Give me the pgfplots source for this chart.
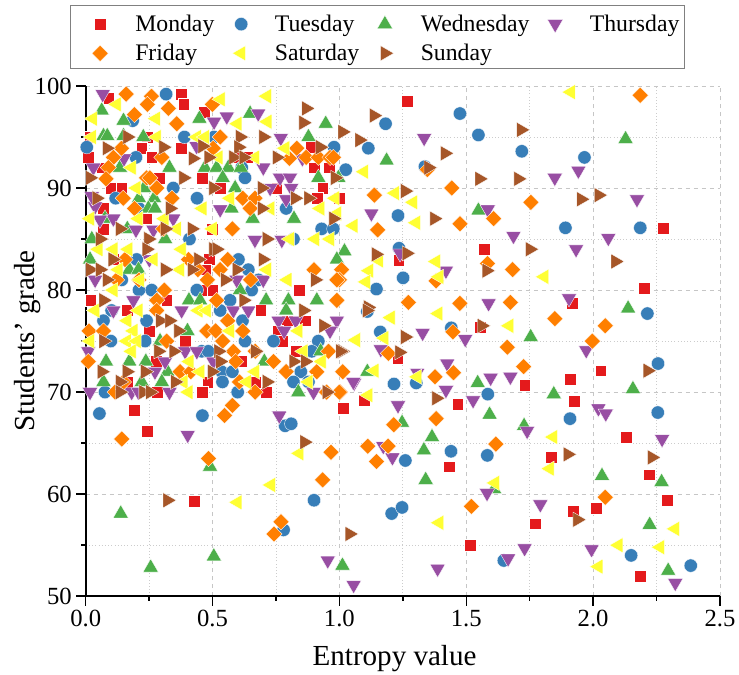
\documentclass[border=0pt]{standalone}
\usepackage{fontspec}
\setmainfont{Liberation Serif}
\usepackage{pgfplots}
\pgfplotsset{compat=1.18}
\definecolor{cMon}{HTML}{E41A1C}
\definecolor{cTue}{HTML}{377EB8}
\definecolor{cWed}{HTML}{4DAF4A}
\definecolor{cThu}{HTML}{984EA3}
\definecolor{cFri}{HTML}{FF7F00}
\definecolor{cSat}{HTML}{FFFF33}
\definecolor{cSun}{HTML}{A65628}
\pgfplotsset{
 mon/.style={only marks,mark=square*,mark size=4.4pt,mark options={fill=cMon,draw=white,line width=0.25pt}},
 tue/.style={only marks,mark=*,mark size=5pt,mark options={fill=cTue,draw=white,line width=0.25pt}},
 wed/.style={only marks,mark=triangle*,mark size=6.6pt,mark options={fill=cWed,draw=white,line width=0.25pt}},
 thu/.style={only marks,mark=triangle*,mark size=6.6pt,mark options={rotate=180,fill=cThu,draw=white,line width=0.25pt}},
 fri/.style={only marks,mark=square*,mark size=4.3pt,mark options={rotate=45,fill=cFri,draw=white,line width=0.25pt}},
 sat/.style={only marks,mark=triangle*,mark size=6.6pt,mark options={rotate=90,fill=cSat,draw=white,line width=0.25pt}},
 sun/.style={only marks,mark=triangle*,mark size=6.6pt,mark options={rotate=-90,fill=cSun,draw=white,line width=0.25pt}},
}
\begin{document}
\begin{tikzpicture}
\path[use as bounding box] (-64.3pt,-59pt) rectangle (490pt,447.2pt);
\begin{axis}[
 scale only axis,width=475.7pt,height=382.7pt,
 xmin=0,xmax=2.5,ymin=50,ymax=100,
 axis lines=left,axis line style={-,line width=1.3pt,black},
 xtick={0,0.5,1,1.5,2,2.5},ytick={50,60,70,80,90,100},
 minor xtick={0.25,0.75,1.25,1.75,2.25},minor ytick={55,65,75,85,95},
 xticklabels={0.0,0.5,1.0,1.5,2.0,2.5},
 tick align=outside,
 major tick length=7pt,minor tick length=3.5pt,
 every tick/.style={black,line width=1.1pt},
 grid=both,
 major grid style={dashed,gray!45,line width=0.5pt},
 minor grid style={dotted,gray!40,line width=0.6pt},
 tick label style={font=\fontsize{18.5pt}{20pt}\selectfont},
 /pgf/number format/assume math mode=true,
 xlabel={Entropy value},ylabel={Students' grade},
 label style={font=\fontsize{21.8pt}{24pt}\selectfont},
 xlabel style={at={(axis description cs:0.487,0)},anchor=north,yshift=-33pt},
 ylabel style={at={(axis description cs:0,0.5)},anchor=south,yshift=30pt},
 legend columns=4,
 legend cell align=left,
 legend style={at={(rel axis cs:0.0032,1.1529)},anchor=north west,draw=none,fill=none,
   font=\fontsize{17.8pt}{20pt}\selectfont,
   inner xsep=3pt,inner ysep=3pt,row sep=4pt,
   /tikz/every even column/.append style={column sep=11.5pt},
   /tikz/every odd column/.append style={column sep=18.3pt}},
]
\addplot[mon] coordinates {(.19,68.2)(.243,66.2)(.427,59.3)(1.016,68.4)(1.23,73.3)(1.097,69.2)(1.466,68.8)(1.433,62.7)(1.515,55)(1.73,70.7)(1.91,71.3)(1.926,69.1)(2.03,72.1)(1.836,63.6)(1.922,58.3)(2.011,58.6)(1.771,57.1)(2.13,65.6)(2.22,61.9)(2.293,59.4)(2.186,52)
(1.268,98.5)(1.571,84)(1.234,82.9)(2.276,86.1)(2.202,80.2)(1.918,78.7)(1.556,76.4)
(.09,98.8)(.375,99.2)(.386,98.2)(.468,97.4)(.243,95)(.221,93.9)(.26,93)(.375,93.9)(.01,93)(.063,92)(.887,94)(.9,92)(.96,92)(.46,91)(.29,91)(.1,90)(.142,90)(.53,90)(.753,90)(.934,90)(.913,89)(1.0,89)(.017,95)(.07,88)(.07,86)(.24,87)(.497,86)(.589,93)(.635,93)
(.488,83)(.47,82)(.02,79)(.319,79)(.46,80)(.5,80)(.842,80)(.164,78)(.69,78)(.795,77)(.865,77)(.251,76)(.392,75)(.757,76)(.773,75)(.829,74)(.277,73)(.615,73)(.162,71)(.481,71)(.283,70)(.46,70)(.71,70)(.109,83)(.668,71)};
\addlegendentry{Monday}
\addplot[tue] coordinates {(.054,67.9)(.46,67.7)(.786,66.7)(.81,66.9)(.90,59.4)(.78,56.5)(1.215,70.8)(1.303,70.9)(1.26,63.3)(1.44,64.2)(1.583,63.8)(1.585,69.8)(1.206,58.1)(1.247,58.7)(1.909,67.4)(2.256,72.8)(2.255,68)(1.648,53.5)(2.15,54)(2.385,53)
(1.475,97.3)(1.182,96.3)(1.548,95.2)(1.114,93.9)(1.719,93.6)(1.966,93)(1.337,92.1)(1.025,91.8)(1.231,87.3)(1.891,86.1)(2.186,86.1)(1.235,84.1)(1.251,81.2)(1.146,80.1)(1.11,77.9)(2.214,77.7)(1.161,75.9)(1.441,76.3)
(.317,99.2)(.389,95)(.185,96.6)(.004,94)(.198,93)(.506,95)(.615,92)(.628,91)(.979,94)(.345,90)(.118,89)(.439,89)(.79,88)(.93,86)(.976,86)(.409,85)(.21,88)(.819,85)
(.201,83)(.641,82)(.602,83)(.142,81)(.681,81)(.21,80)(.26,80)(.438,80)(.654,80)(.569,79)(.53,78)(.102,78)(.07,77)(.24,77)(.618,77)(.234,75)(.099,75)(.628,75)(.74,75)(.917,75)(.457,74)(.483,74)(.891,74)(.536,72)(.578,72)(.848,72)(.539,71)(.819,71)(.076,70)(.599,70)(.878,71)};
\addlegendentry{Tuesday}
\addplot[wed] coordinates {(.49,62.7)(.138,58.1)(.256,52.8)(.505,53.9)(1.012,53)(1.11,72)(1.545,70.9)(1.845,69.8)(2.157,70.3)(1.247,67)(1.592,67.8)(1.728,66.7)(1.365,65.6)(1.333,64.3)(1.34,61.4)(1.61,60.5)(2.035,61.8)(2.27,61.2)(2.223,57)(2.296,52.5)
(1.186,92.7)(2.128,94.8)(1.548,87.8)(1.02,83.8)(2.138,78.2)(1.754,75.4)
(.063,97.6)(.149,96.6)(.448,96.8)(.648,97.3)(.946,96.3)(.07,95.1)(.085,95.1)(.149,95.1)(.227,95)(.878,95)(.135,92)(.33,92)(.47,92)(.516,92)(.562,92)(.611,92)(.54,91)(.917,91)(.996,91)(.589,90)(.23,90)(.27,89)(.21,89)(.247,88)(.273,88)(.575,88)(.658,87)(.821,87)(.313,85)(.164,86)(.024,85)(.076,87)
(.017,83)(.99,83)(.172,82)(.208,82)(.608,80)(.407,79)(.451,79)(.711,79)(.799,79)(.911,79)(.79,78)(.401,76)(.293,75)(.08,73)(.172,73)(.237,73)(.704,73)(.926,74)(.322,72)(.07,71)(.221,71)(.3,71)(.838,70)};
\addlegendentry{Wednesday}
\addplot[thu] coordinates {(.402,65.8)(.763,67.7)(.954,53.5)(1.056,51.1)(1.163,74.2)(1.058,70.9)(1.307,71.9)(1.425,72.8)(1.42,70.2)(1.596,71.4)(1.674,71.5)(1.527,69.2)(1.231,68.7)(1.173,64.7)(1.209,63.6)(1.582,60.1)(1.74,66.2)(1.792,59)(1.973,74.1)(2.021,68.4)(2.05,67.9)(2.272,65.4)(1.387,52.7)(1.665,53.7)(1.73,54.7)(1.994,54.6)(2.324,51.3)
(1.334,94.9)(1.849,91)(1.942,91.7)(2.173,88.9)(1.126,87.5)(1.585,87.9)(1.686,85.3)(2.06,85.1)(1.933,84)(1.42,81.9)(1.905,79.2)(1.588,78.7)(1.328,75.8)(1.496,75.2)(1.239,83.6)
(.067,99.2)(.506,96.5)(.556,97)(.68,97.3)(.769,94.9)(.151,92.9)(.03,92)(.70,92)(.766,91)(.805,91)(.727,90)(.81,90)(.79,88.9)(.037,88.2)(.109,87)(.198,85.9)(.345,87)(.667,84.9)(.773,84.9)(.437,94.1)(.854,92.9)(.53,87.9)(.024,89.2)(.056,86.9)(.267,85.9)
(.037,81)(.251,83)(.7,81)(.595,81)(.188,79)(.378,78)(.582,78)(.641,78)(.76,77)(.828,77)(.99,77)(.782,76)(.963,76)(.392,74)(.438,74)(.313,73)(.273,72)(1.055,71)(.898,70)(.017,70)(.181,70)(.208,70)(.33,70)(.01,74)(.109,78)(.503,73)};
\addlegendentry{Thursday}
\addplot[fri] coordinates {(.142,65.4)(.484,63.5)(.547,67.7)(.578,68.7)(.967,64.1)(.934,61.4)(.77,57.3)(.742,56.1)(1.112,64.7)(1.013,72)(1.0024,70)(1.193,73.8)(1.377,71.5)(1.45,71.9)(1.726,72.5)(1.662,74.4)(1.997,75)(1.381,67.4)(1.214,66.8)(1.192,64.7)(1.146,63.2)(1.617,64.9)(1.52,58.8)(2.048,59.7)
(2.186,99.1)(1.347,91.8)(1.443,90)(1.138,89.3)(1.755,88.6)(1.608,87)(1.475,86.5)(1.151,85.9)(1.584,82.6)(1.683,82)(1.009,82)(1.381,80.9)(1.272,78.8)(1.475,78.7)(1.674,78.8)(1.849,77.2)(2.048,76.5)(1.447,75.9)
(.159,99.2)(.259,99)(.243,98.2)(.326,97.8)(.192,97.2)(.359,96.3)(.499,98.2)(.53,95)(.503,93.9)(.141,93.9)(.109,93)(.3,93)(.089,92)(.803,92.9)(.832,93.9)(.869,93)(.917,93)(.963,93)(.976,93)(.08,90.9)(.24,91)(.253,91)(.28,90)(.148,89)(.34,89)(.192,88)(.619,89)(.667,89)(.648,88)(.578,86)(.306,86)
(.155,83)(.56,83)(.405,83)(.442,82)(.53,82)(.9,82)(1.0,81)(.48,81)(.122,81)(.21,81)(.65,81)(.99,81)(.31,80)(.28,79)(.28,78)(.516,79)(.99,79)(.56,77)(.013,76)(.07,76)(.477,76)(.512,76)(.619,76)(.319,75)(.54,75)(.582,74)(.957,74)(.668,74)(.591,73)(.74,73)(.01,73)(.372,72)(.414,72)(.79,72)(.911,72)(.149,71)(.606,71)(.116,70)(.668,70)(1.0,70)(.95,70)};
\addlegendentry{Friday}
\addplot[sat] coordinates {(.842,64)(.73,60.9)(.598,59.2)(1.138,72.1)(1.307,71.5)(1.114,69.7)(1.843,65.6)(1.829,62.5)(1.613,61.1)(1.393,57.2)(2.10,55)(2.264,54.8)(2.021,52.9)(2.323,56.6)
(1.912,99.4)(1.097,91.6)(1.219,89.5)(1.291,88.6)(1.055,86.3)(1.302,86.6)(1.156,82.9)(1.381,82.8)(1.117,81.9)(1.393,81.3)(1.105,80.8)(1.807,81.3)(1.202,77.3)(1.39,77.7)(1.669,76.5)(1.177,75.3)(1.065,75.1)
(.714,99)(.532,98.7)(.122,98.2)(.028,96.8)(.277,96.8)(.598,96.3)(.716,96.5)(.024,95)(.28,95)(.438,95)(.47,95)(.786,93.9)(.668,93)(.523,93)(.181,92)(.2,90)(.569,89)(.727,88)(.924,88)(.983,89)(.99,87.5)(.46,88)(.208,87)(.017,87)(.31,87)(.359,86)(.5,86)(.805,85)(.904,85)(.963,85)(.378,84)(.168,84)
(.05,84)(.109,84)(.267,83)(.129,82)(.372,82)(.714,82)(.214,81)(.109,80)(.795,81)(.037,78)(.444,78)(.477,78)(.208,78)(.164,77)(.188,76)(.569,76)(.838,76)(.017,75)(.162,75)(.201,75)(.181,74)(.409,73)(.858,74)(.93,73)(.451,72)(.668,72)(.635,71)(.385,71)(.878,71)(.405,70)};
\addlegendentry{Saturday}
\addplot[sun] coordinates {(.862,65.1)(.322,59.4)(1.04,56.1)(1.01,74)(1.236,73.9)(1.382,69.4)(2.215,72.1)(1.90,63.9)(2.232,63.6)(1.938,57.5)
(1.136,97.1)(1.012,95.5)(1.079,94.7)(1.716,95.7)(1.416,93.4)(1.351,92)(1.552,90.9)(1.705,90.9)(1.259,89.7)(1.953,88.9)(2.022,89.3)(1.374,87)(1.751,84)(1.144,83.5)(1.265,83.6)(2.088,82.8)(1.58,81.9)(1.113,78.3)(1.561,76.5)(1.259,75.4)
(.869,97.8)(.858,96.4)(.608,95)(.7,95)(.164,95)(.083,93.9)(.306,94)(.602,94)(.46,94.1)(.422,92.9)(.484,93)(.582,93)(.622,93)(.753,93)(.924,94)(.017,91)(.385,91)(.983,91)(.503,90)(.694,90)(.043,89)(.825,89)(.878,89)(.332,88)(.694,88)(.976,87)(.135,86)(.313,86)(.418,86)(.714,85)(.056,85)(.247,85)(.503,84)
(.516,84)(.698,83)(.24,84)(.106,83)(.444,83)(.313,82)(.418,82)(.595,82)(.017,82)(.056,82)(.083,81)(.549,81)(.904,81)(.07,79)(.622,79)(.858,78)(.293,77)(.33,77)(.937,76.5)(.365,76)(.07,75)(.668,74)(.286,74)(.523,74)(1.003,74)(.346,74)(.53,73)(.819,73)(.865,73)(.162,72)(.234,72)(.497,72)(.063,72)(.135,71)(.352,71)(.714,71)(.135,70)(.227,70)(.254,70)(.95,70)(1.108,78)};
\addlegendentry{Sunday}
\end{axis}
\draw[gray,line width=0.6pt] (-11.8pt,396.2pt) rectangle (448.7pt,443.5pt);
\end{tikzpicture}
\end{document}
